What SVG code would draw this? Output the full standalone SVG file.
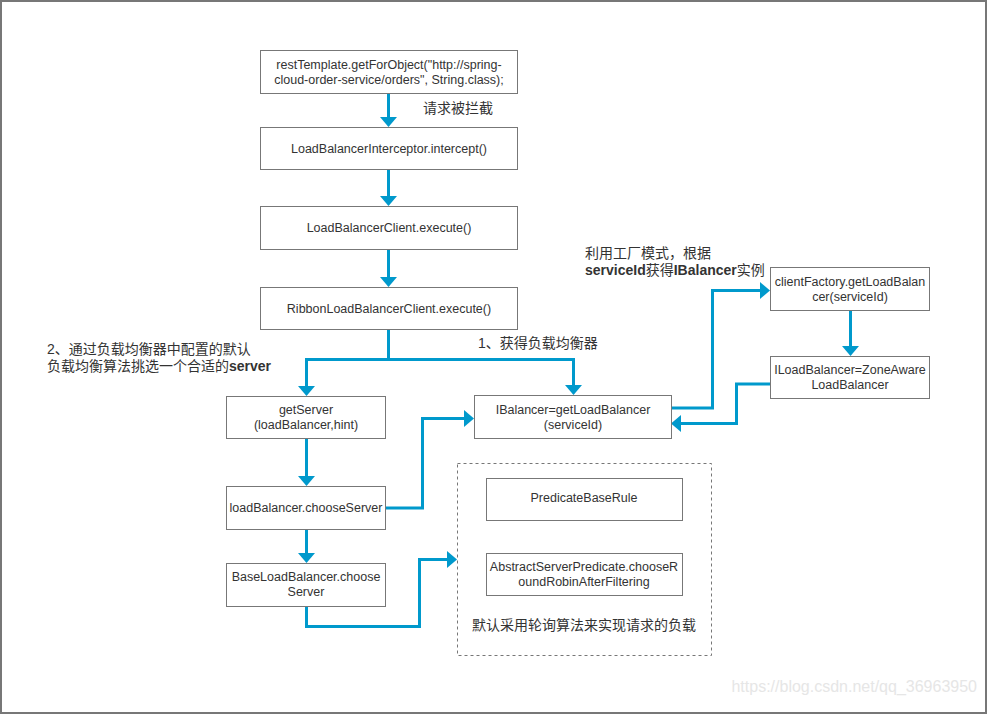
<svg xmlns="http://www.w3.org/2000/svg" width="987" height="715" viewBox="0 0 987 715">
<style>
.box{fill:#fff;stroke:#777;stroke-width:1}
.dash{fill:none;stroke:#777;stroke-width:1;stroke-dasharray:3 3}
.t{font-family:"Liberation Sans",Arial,"Noto Sans CJK SC",sans-serif;font-size:12.5px;fill:#333;text-anchor:middle}
.c{font-family:"Liberation Sans",Arial,"Noto Sans CJK SC",sans-serif;font-size:14px;fill:#333}
.b{font-weight:bold}
.conn path{fill:none;stroke:#0099cc;stroke-width:3;marker-end:url(#ah)}
</style>
<defs>
<marker id="ah" markerUnits="userSpaceOnUse" viewBox="0 0 10 17" markerWidth="10" markerHeight="17" refX="1" refY="8.5" orient="auto">
<path d="M0,0 L10,8.5 L0,17 z" fill="#0099cc"/>
</marker>
</defs>
<rect x="1" y="1" width="985" height="712" fill="#fff" stroke="#777" stroke-width="2"/>

<g id="conn" class="conn">
<path d="M388.5,93 V118"/>
<path d="M388.5,169 V197"/>
<path d="M388.5,249 V278"/>
<path d="M388.5,329 V359.5 H306.5 V387"/>
<path d="M388.5,359.5 H573.5 V386"/>
<path d="M306.5,438 V477"/>
<path d="M306.5,529 V554"/>
<path d="M386,508 H422.5 V418.5 H465"/>
<path d="M306.5,606 V626.5 H419.5 V559.5 H448"/>
<path d="M671,408 H712.5 V290.5 H761"/>
<path d="M850.5,310 V347"/>
<path d="M770,384 H736.5 V423.5 H680"/>
</g>

<g id="n1"><rect class="box" x="260.5" y="50.5" width="257" height="43"/>
<text class="t" x="389" y="69">restTemplate.getForObject("http://spring-</text>
<text class="t" x="389" y="84">cloud-order-service/orders", String.class);</text></g>
<g id="l1"><text class="c" x="423" y="113">请求被拦截</text></g>
<g id="n2"><rect class="box" x="260.5" y="127.5" width="257" height="42"/>
<text class="t" x="389" y="153">LoadBalancerInterceptor.intercept()</text></g>
<g id="n3"><rect class="box" x="260.5" y="206.5" width="257" height="43"/>
<text class="t" x="389" y="232">LoadBalancerClient.execute()</text></g>
<g id="n4"><rect class="box" x="260.5" y="287.5" width="257" height="42"/>
<text class="t" x="389" y="313">RibbonLoadBalancerClient.execute()</text></g>

<g id="l2"><text class="c" x="47" y="354">2、通过负载均衡器中配置的默认</text>
<text class="c" x="47" y="371">负载均衡算法挑选一个合适的<tspan class="b">server</tspan></text></g>
<g id="l3"><text class="c" x="478" y="348">1、获得负载均衡器</text></g>
<g id="l4"><text class="c" x="585" y="258">利用工厂模式，根据</text>
<text class="c" x="585" y="275"><tspan class="b">serviceId</tspan>获得<tspan class="b">IBalancer</tspan>实例</text></g>

<g id="n5"><rect class="box" x="226.5" y="396.5" width="159" height="42"/>
<text class="t" x="306" y="414">getServer</text>
<text class="t" x="306" y="429">(loadBalancer,hint)</text></g>
<g id="n6"><rect class="box" x="226.5" y="486.5" width="159" height="43"/>
<text class="t" x="306" y="512">loadBalancer.chooseServer</text></g>
<g id="n7"><rect class="box" x="226.5" y="563.5" width="159" height="43"/>
<text class="t" x="306" y="581">BaseLoadBalancer.choose</text>
<text class="t" x="306" y="596">Server</text></g>

<g id="n8"><rect class="box" x="474.5" y="395.5" width="197" height="43"/>
<text class="t" x="573" y="414">IBalancer=getLoadBalancer</text>
<text class="t" x="573" y="429">(serviceId)</text></g>
<g id="n9"><rect class="box" x="770.5" y="267.5" width="159" height="43"/>
<text class="t" x="850" y="286">clientFactory.getLoadBalan</text>
<text class="t" x="850" y="301">cer(serviceId)</text></g>
<g id="n10"><rect class="box" x="770.5" y="356.5" width="159" height="42"/>
<text class="t" x="850" y="374">ILoadBalancer=ZoneAware</text>
<text class="t" x="850" y="389">LoadBalancer</text></g>

<g id="n11"><rect class="dash" x="457.5" y="463.5" width="254" height="192"/>
<text class="c" x="584" y="630" text-anchor="middle">默认采用轮询算法来实现请求的负载</text></g>
<g id="n12"><rect class="box" x="486.5" y="478.5" width="196" height="42"/>
<text class="t" x="584" y="502">PredicateBaseRule</text></g>
<g id="n13"><rect class="box" x="486.5" y="553.5" width="196" height="42"/>
<text class="t" x="584" y="571">AbstractServerPredicate.chooseR</text>
<text class="t" x="584" y="586">oundRobinAfterFiltering</text></g>

<text x="977" y="692" font-family="'Liberation Sans',Arial,sans-serif" font-size="16" fill="#e6e6e6" text-anchor="end">https://blog.csdn.net/qq_36963950</text>
</svg>
